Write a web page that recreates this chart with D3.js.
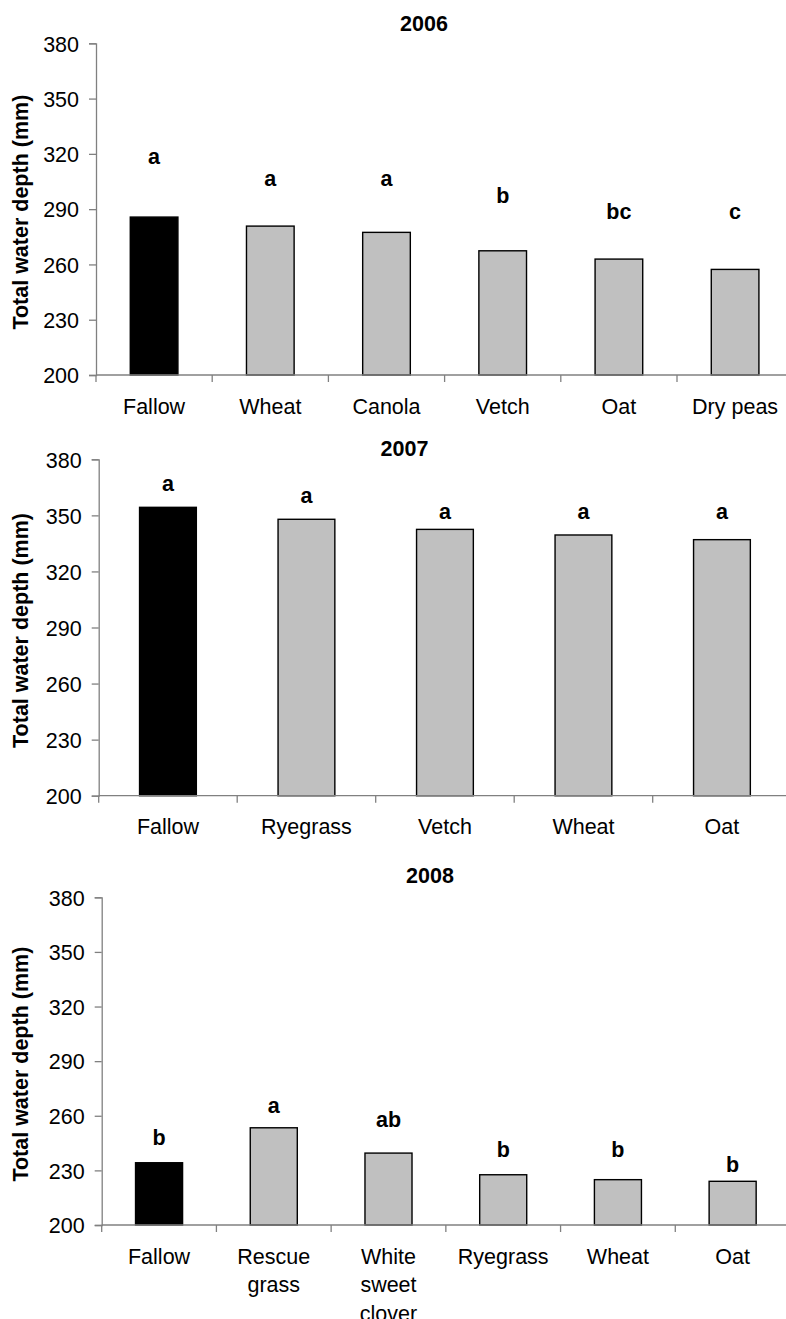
<!DOCTYPE html>
<html>
<head>
<meta charset="utf-8">
<script src="https://cdn.jsdelivr.net/npm/d3@7"></script>
<style>
  html, body { margin: 0; padding: 0; background: #fff; }
  svg { display: block; }
  text { font-family: "Liberation Sans", Arial, sans-serif; }
</style>
</head>
<body>
<script>
// ---------------- DATA ----------------
const yTicks = [200, 230, 260, 290, 320, 350, 380];
const yLabel = "Total water depth (mm)";

const title2006 = "2006";
const cats2006 = [["Fallow"], ["Wheat"], ["Canola"], ["Vetch"], ["Oat"], ["Dry peas"]];
const vals2006 = [285.7, 280.8, 277.4, 267.4, 262.9, 257.3];
const sig2006 = ["a", "a", "a", "b", "bc", "c"];
const sigAt2006 = [314.4, 302.5, 302.5, 293.1, 284.4, 284.4];

const title2007 = "2007";
const cats2007 = [["Fallow"], ["Ryegrass"], ["Vetch"], ["Wheat"], ["Oat"]];
const vals2007 = [354.3, 347.9, 342.5, 339.5, 337.0];
const sig2007 = ["a", "a", "a", "a", "a"];
const sigAt2007 = [363.0, 356.4, 347.9, 347.9, 347.9];

const title2008 = "2008";
const cats2008 = [["Fallow"], ["Rescue", "grass"], ["White", "sweet", "clover"], ["Ryegrass"], ["Wheat"], ["Oat"]];
const vals2008 = [234.2, 253.4, 239.5, 227.6, 224.9, 224.0];
const sig2008 = ["b", "a", "ab", "b", "b", "b"];
const sigAt2008 = [243.9, 261.4, 253.7, 237.5, 237.5, 228.9];

// ---------------- LAYOUT ----------------
const W = 786, H = 1319;
const FS = 21.5;
const AXIS = "#808080";

const panels = [
  { title: title2006, cats: cats2006, vals: vals2006, sig: sig2006, sigAt: sigAt2006,
    x0: 96, x1: 793.2, yTop: 43.3, yBot: 375, tx: 424, ty: 30.5 },
  { title: title2007, cats: cats2007, vals: vals2007, sig: sig2007, sigAt: sigAt2007,
    x0: 98.7, x1: 791.2, yTop: 459.3, yBot: 795.7, tx: 404.5, ty: 456 },
  { title: title2008, cats: cats2008, vals: vals2008, sig: sig2008, sigAt: sigAt2008,
    x0: 101.7, x1: 790, yTop: 897.3, yBot: 1225, tx: 430, ty: 883 }
];

const svg = d3.select("body").append("svg")
  .attr("width", W).attr("height", H)
  .attr("viewBox", `0 0 ${W} ${H}`);

panels.forEach((p) => {
  const g = svg.append("g");
  const names = p.cats.map(c => c.join(" "));
  const x = d3.scaleBand().domain(names).range([p.x0, p.x1]).paddingInner(0).paddingOuter(0);
  const y = d3.scaleLinear().domain([200, 380]).range([p.yBot, p.yTop]);
  const bw = x.bandwidth() * 0.41;

  // bars
  g.selectAll("rect.bar").data(names).enter().append("rect")
    .attr("class", "bar")
    .attr("x", d => x(d) + (x.bandwidth() - bw) / 2)
    .attr("y", (d, i) => y(p.vals[i]))
    .attr("width", bw)
    .attr("height", (d, i) => y(200) - y(p.vals[i]))
    .attr("fill", (d, i) => i === 0 ? "#000000" : "#c0c0c0")
    .attr("stroke", "#000")
    .attr("stroke-width", 1.4);

  // y axis
  const yAxis = d3.axisLeft(y).tickValues(yTicks).tickSize(7).tickPadding(10).tickFormat(d3.format("d"));
  const ya = g.append("g").attr("transform", `translate(${p.x0},0)`).call(yAxis);
  ya.select(".domain").attr("stroke", AXIS).attr("stroke-width", 1.3);
  ya.selectAll(".tick line").attr("stroke", AXIS).attr("stroke-width", 1.3);
  ya.selectAll(".tick text")
    .attr("fill", "#000").attr("font-size", FS)
    .attr("font-family", "'Liberation Sans', Arial, sans-serif")
    .attr("dy", "0.36em");

  // x axis line
  g.append("line")
    .attr("x1", p.x0).attr("x2", p.x1)
    .attr("y1", y(200)).attr("y2", y(200))
    .attr("stroke", AXIS).attr("stroke-width", 1.3);
  // x ticks at band boundaries
  g.selectAll("line.xt").data(names).enter().append("line")
    .attr("class", "xt")
    .attr("x1", d => x(d)).attr("x2", d => x(d))
    .attr("y1", y(200)).attr("y2", y(200) + 7)
    .attr("stroke", AXIS).attr("stroke-width", 1.3);

  // category labels
  const lbl = g.selectAll("text.cat").data(p.cats).enter().append("text")
    .attr("class", "cat")
    .attr("text-anchor", "middle")
    .attr("font-size", FS)
    .attr("fill", "#000");
  lbl.each(function (lines, i) {
    const cx = x(names[i]) + x.bandwidth() / 2;
    d3.select(this).selectAll("tspan").data(lines).enter().append("tspan")
      .attr("x", cx)
      .attr("y", (l, j) => y(200) + 38.5 + j * 28.7)
      .text(l => l);
  });

  // significance letters
  g.selectAll("text.sig").data(p.sig).enter().append("text")
    .attr("class", "sig")
    .attr("x", (d, i) => x(names[i]) + x.bandwidth() / 2)
    .attr("y", (d, i) => y(p.sigAt[i]))
    .attr("text-anchor", "middle")
    .attr("font-size", FS)
    .attr("font-weight", "bold")
    .attr("fill", "#000")
    .text(d => d);

  // title
  g.append("text")
    .attr("x", p.tx).attr("y", p.ty)
    .attr("text-anchor", "middle")
    .attr("font-size", FS)
    .attr("font-weight", "bold")
    .attr("fill", "#000")
    .text(p.title);

  // y label
  const cy = (p.yTop + p.yBot) / 2 + 3;
  g.append("text")
    .attr("transform", `translate(28,${cy}) rotate(-90)`)
    .attr("text-anchor", "middle")
    .attr("font-size", FS)
    .attr("font-weight", "bold")
    .attr("fill", "#000")
    .text(yLabel);
});
</script>
</body>
</html>
